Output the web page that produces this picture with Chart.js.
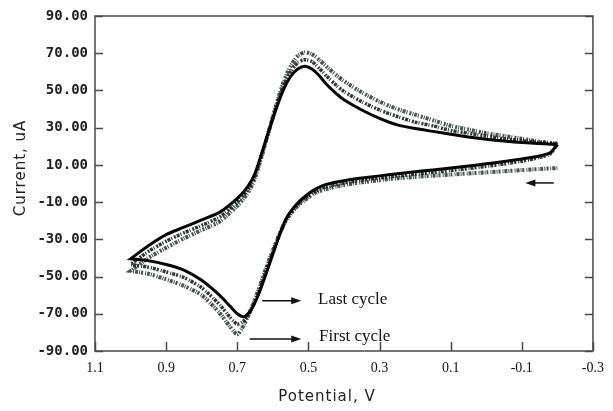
<!DOCTYPE html>
<html>
<head>
<meta charset="utf-8">
<title>Cyclic voltammogram</title>
<script src="https://cdn.jsdelivr.net/npm/chart.js@4"></script>
<style>
    html, body { margin: 0; padding: 0; background: #fff; }
</style>
</head>
<body>
<canvas id="cvChart" width="613" height="411"></canvas>
<script>
// ===== DATA =====

// tick values
const potentialTicks = [1.1, 0.9, 0.7, 0.5, 0.3, 0.1, -0.1, -0.3];
const currentTicks = [-90, -70, -50, -30, -10, 10, 30, 50, 70, 90];

// forward sweep (lower branch), -0.2 V -> 1.0 V
const forwardE = [-0.20, -0.18, -0.15, -0.10, -0.05, 0.00, 0.05, 0.10, 0.15, 0.20, 0.25,
    0.30, 0.35, 0.40, 0.45, 0.48, 0.50, 0.53, 0.56, 0.58, 0.60, 0.62, 0.64, 0.66, 0.68,
    0.70, 0.72, 0.75, 0.80, 0.85, 0.90, 0.95, 1.00];

// reverse sweep (upper branch), 1.0 V -> -0.2 V
const reverseE = [1.00, 0.95, 0.90, 0.85, 0.80, 0.75, 0.70, 0.67, 0.65, 0.63, 0.61, 0.59,
    0.57, 0.55, 0.53, 0.51, 0.49, 0.47, 0.45, 0.42, 0.40, 0.35, 0.30, 0.25, 0.20, 0.15,
    0.10, 0.05, 0.00, -0.05, -0.10, -0.15, -0.20];

// currents, uA
const firstForward = [8.3, 8.1, 7.8, 7.2, 6.6, 6.0, 5.4, 4.8, 4.2, 3.5, 2.8,
    1.8, 0.6, -0.8, -3.0, -5.0, -7.5, -12.0, -19.0, -26.5, -36.0, -46.0, -57.0, -67.0, -75.5,
    -81.0, -77.0, -69.5, -60.0, -55.0, -51.5, -48.5, -47.0];
const firstReverse = [-47.0, -40.0, -34.5, -29.5, -25.0, -20.5, -12.0, -5.0, 3.0, 15.5, 29.0, 42.5,
    54.5, 63.0, 68.5, 70.5, 69.5, 66.5, 63.0, 58.0, 55.0, 49.0, 44.0, 40.0, 37.0, 34.0,
    31.0, 29.0, 27.0, 25.5, 24.0, 22.5, 21.5];

const midForward = [21.0, 16.0, 14.0, 12.0, 10.5, 9.2, 8.0, 7.0, 6.0, 5.0, 4.0,
    3.0, 1.8, 0.3, -1.8, -4.0, -6.5, -11.2, -18.5, -27.0, -37.0, -47.5, -58.5, -67.5, -73.5,
    -75.5, -72.0, -65.0, -56.0, -50.5, -47.5, -45.0, -43.5];
const midReverse = [-43.5, -36.5, -31.0, -26.5, -22.5, -18.0, -10.0, -3.0, 4.5, 16.5, 29.0, 41.5,
    52.5, 60.0, 65.0, 66.5, 65.5, 62.0, 58.0, 52.5, 49.5, 44.0, 39.5, 36.0, 33.0, 31.0,
    28.5, 27.0, 25.5, 24.0, 23.0, 22.0, 21.2];

const lastForward = [21.0, 16.5, 14.8, 13.2, 11.8, 10.6, 9.4, 8.3, 7.3, 6.3, 5.2,
    4.1, 2.9, 1.5, -0.5, -3.0, -5.5, -10.5, -18.0, -27.0, -38.0, -49.0, -59.5, -67.5, -71.5,
    -70.0, -66.0, -60.0, -52.0, -46.5, -43.5, -41.5, -40.5];
const lastReverse = [-40.5, -33.5, -27.5, -23.5, -19.5, -15.5, -8.0, -1.5, 5.5, 17.0, 29.0, 40.5,
    50.5, 57.5, 61.5, 63.0, 61.5, 58.0, 53.5, 48.0, 45.0, 39.5, 35.0, 31.5, 29.5, 28.0,
    26.5, 25.0, 23.8, 22.8, 22.0, 21.5, 21.0];

// annotation labels: [potential, current]
const notes = [
    { text: "Last cycle", from: [0.63, -63.0], to: [0.52, -63.0], at: [0.473, -62.6] },
    { text: "First cycle", from: [0.665, -83.6], to: [0.52, -83.6], at: [0.47, -82.0] },
];
const scanArrow = { from: [-0.19, 0.3], to: [-0.11, 0.3] };

// ===== HELPERS =====

function toPoints(potentials, currents) {
    return potentials.map((e, i) => ({ x: e, y: currents[i] }));
}

function drawArrow(ctx, x1, y1, x2, y2) {
    const ang = Math.atan2(y2 - y1, x2 - x1);
    const len = 10, half = 3.5;
    ctx.beginPath();
    ctx.moveTo(x1, y1);
    ctx.lineTo(x2 - Math.cos(ang) * len * 0.6, y2 - Math.sin(ang) * len * 0.6);
    ctx.stroke();
    ctx.beginPath();
    ctx.moveTo(x2, y2);
    ctx.lineTo(x2 - Math.cos(ang) * len - Math.sin(ang) * half, y2 - Math.sin(ang) * len + Math.cos(ang) * half);
    ctx.lineTo(x2 - Math.cos(ang) * len + Math.sin(ang) * half, y2 - Math.sin(ang) * len - Math.cos(ang) * half);
    ctx.closePath();
    ctx.fill();
}

// frame, inward ticks, axis titles and notes
const decorPlugin = {
    id: "decor",
    afterDatasetsDraw(chart) {
        const { ctx, chartArea: a, scales: { x, y } } = chart;
        ctx.save();

        // box frame
        ctx.strokeStyle = "#4a4a4a";
        ctx.lineWidth = 1.5;
        ctx.strokeRect(a.left, a.top, a.right - a.left, a.bottom - a.top);

        // inward ticks
        ctx.beginPath();
        currentTicks.forEach((v) => {
            const py = Math.round(y.getPixelForValue(v)) + 0.5;
            ctx.moveTo(a.left, py); ctx.lineTo(a.left + 8, py);
            ctx.moveTo(a.right, py); ctx.lineTo(a.right - 8, py);
        });
        potentialTicks.forEach((v) => {
            const px = Math.round(x.getPixelForValue(v)) + 0.5;
            ctx.moveTo(px, a.bottom); ctx.lineTo(px, a.bottom - 9);
        });
        ctx.stroke();

        // axis titles
        ctx.fillStyle = "#222";
        ctx.font = "15px 'DejaVu Sans'";
        ctx.letterSpacing = "1px";
        ctx.textAlign = "center";
        ctx.textBaseline = "middle";
        ctx.fillText("Potential, V", 327, 397);
        ctx.save();
        ctx.translate(21, 168);
        ctx.rotate(-Math.PI / 2);
        ctx.fillText("Current, uA", 0, 0);
        ctx.restore();
        ctx.letterSpacing = "0px";

        // notes with arrows
        ctx.strokeStyle = "#111";
        ctx.fillStyle = "#111";
        ctx.lineWidth = 1.5;
        ctx.font = "17px 'Liberation Serif'";
        ctx.textAlign = "left";
        notes.forEach((n) => {
            drawArrow(ctx,
                x.getPixelForValue(n.from[0]), y.getPixelForValue(n.from[1]),
                x.getPixelForValue(n.to[0]), y.getPixelForValue(n.to[1]));
            ctx.fillText(n.text, x.getPixelForValue(n.at[0]), y.getPixelForValue(n.at[1]));
        });
        drawArrow(ctx,
            x.getPixelForValue(scanArrow.from[0]), y.getPixelForValue(scanArrow.from[1]),
            x.getPixelForValue(scanArrow.to[0]), y.getPixelForValue(scanArrow.to[1]));

        ctx.restore();
    },
};

// ===== CHART =====

document.addEventListener("DOMContentLoaded", function () {
    const ctx = document.getElementById("cvChart");

    new Chart(ctx, {
        type: "scatter",
        data: {
            datasets: [
                {
                    label: "First cycle",
                    data: toPoints(forwardE.concat(reverseE), firstForward.concat(firstReverse)),
                    borderColor: "rgba(40, 55, 45, 0.85)",
                    borderWidth: 4,
                    borderDash: [1, 1, 3, 1, 1, 2, 2, 1],
                    order: 3,
                },
                {
                    label: "Middle cycles",
                    data: toPoints(forwardE.concat(reverseE), midForward.concat(midReverse)),
                    borderColor: "rgba(25, 35, 30, 0.9)",
                    borderWidth: 3.5,
                    borderDash: [3, 1, 1, 2, 2, 1],
                    order: 2,
                },
                {
                    label: "Last cycle",
                    data: toPoints(forwardE.concat(reverseE), lastForward.concat(lastReverse)),
                    borderColor: "#050505",
                    borderWidth: 3,
                    order: 1,
                },
            ],
        },
        options: {
            responsive: false,
            animation: false,
            showLine: true,
            elements: {
                point: { radius: 0, hoverRadius: 0 },
                line: { tension: 0.25, fill: false },
            },
            layout: { padding: { top: 16, right: 11, bottom: 0, left: 0 } },
            plugins: {
                legend: { display: false },
                tooltip: { enabled: false },
            },
            scales: {
                x: {
                    type: "linear",
                    reverse: true,
                    min: -0.3,
                    max: 1.1,
                    afterBuildTicks: (scale) => {
                        scale.ticks = potentialTicks.map((v) => ({ value: v }));
                    },
                    afterFit: (scale) => { scale.height = 60; },
                    grid: { display: false, drawTicks: false },
                    border: { display: false },
                    ticks: {
                        autoSkip: false,
                        maxRotation: 0,
                        padding: 9,
                        color: "#111",
                        font: { family: "'Liberation Serif'", size: 14 },
                        callback: (v) => Number(v).toFixed(1),
                    },
                },
                y: {
                    type: "linear",
                    min: -90,
                    max: 90,
                    afterBuildTicks: (scale) => {
                        scale.ticks = currentTicks.map((v) => ({ value: v }));
                    },
                    afterFit: (scale) => { scale.width = 95; },
                    grid: { display: false, drawTicks: false },
                    border: { display: false },
                    ticks: {
                        padding: 7,
                        color: "#222",
                        font: { family: "'DejaVu Sans Mono'", size: 14, weight: "bold" },
                        callback: (v) => Number(v).toFixed(2),
                    },
                },
            },
        },
        plugins: [decorPlugin],
    });
});
</script>
</body>
</html>
